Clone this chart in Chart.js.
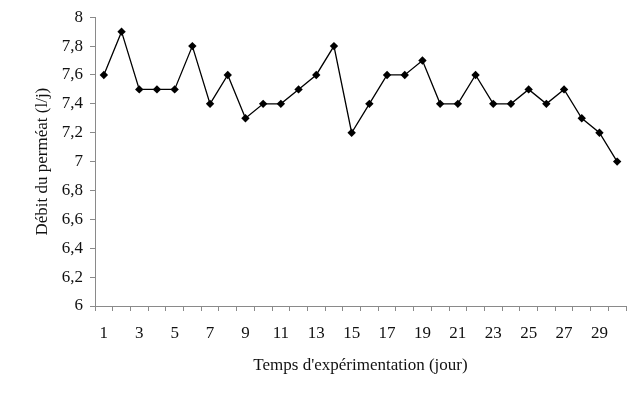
<!DOCTYPE html>
<html>
<head>
<meta charset="utf-8">
<script src="https://cdn.jsdelivr.net/npm/chart.js@4"></script>
<style>
  html, body { margin: 0; padding: 0; background: #fff; }
  #wrap { width: 635px; height: 415px; }
</style>
</head>
<body>
<div id="wrap"><canvas id="js-canvas-debit"></canvas></div>
<script>
// jours d'expérimentation
const days = [
  1, 2, 3, 4, 5, 6, 7, 8, 9, 10,
  11, 12, 13, 14, 15, 16, 17, 18, 19, 20,
  21, 22, 23, 24, 25, 26, 27, 28, 29, 30
];

// débit du perméat (l/j)
const flow = [
  7.6, 7.9, 7.5, 7.5, 7.5, 7.8, 7.4, 7.6, 7.3, 7.4,
  7.4, 7.5, 7.6, 7.8, 7.2, 7.4, 7.6, 7.6, 7.7, 7.4,
  7.4, 7.6, 7.4, 7.4, 7.5, 7.4, 7.5, 7.3, 7.2, 7.0
];

const yMin = 6;
const yMax = 8;
const yStep = 0.2;

const serif = 'Liberation Serif, Times New Roman, serif';
const axisGrey = '#8a8a8a';

const ctx = document.getElementById('js-canvas-debit');
new Chart(ctx, {
  type: 'line',
  data: {
    labels: days.map(String),
    datasets: [
      {
        label: 'Débit du perméat',
        data: flow,
        borderColor: '#000',
        backgroundColor: '#000',
        borderWidth: 1.3,
        pointStyle: 'rectRot',
        pointRadius: 4.2,
        pointBorderWidth: 0,
        tension: 0,
        fill: false
      }
    ]
  },
  options: {
    responsive: true,
    maintainAspectRatio: false,
    animation: false,
    layout: { padding: { top: 15, right: 9, left: 0, bottom: 0 } },
    plugins: {
      legend: { display: false },
      tooltip: { enabled: false }
    },
    scales: {
      x: {
        type: 'category',
        offset: true,
        afterFit: (scale) => { scale.height = 109; },
        grid: {
          offset: true,
          drawOnChartArea: false,
          drawTicks: true,
          tickLength: 5,
          color: axisGrey
        },
        border: { display: true, color: axisGrey, width: 1 },
        ticks: {
          autoSkip: false,
          maxRotation: 0,
          padding: 12,
          color: '#111',
          font: { family: serif, size: 17 },
          callback: function (value, index) {
            return index % 2 === 0 ? this.getLabelForValue(value) : '';
          }
        },
        title: {
          display: true,
          text: "Temps d'expérimentation (jour)",
          color: '#111',
          font: { family: serif, size: 17 },
          padding: { top: 0, bottom: 39 }
        }
      },
      y: {
        min: yMin,
        max: yMax,
        afterFit: (scale) => { scale.width = 95; },
        grid: {
          drawOnChartArea: false,
          drawTicks: true,
          tickLength: 5,
          color: axisGrey
        },
        border: { display: true, color: axisGrey, width: 1 },
        ticks: {
          stepSize: yStep,
          padding: 7,
          color: '#111',
          font: { family: serif, size: 17 },
          callback: (value) => String(Number(value.toFixed(1))).replace('.', ',')
        },
        title: {
          display: true,
          text: 'Débit du perméat (l/j)',
          color: '#111',
          font: { family: serif, size: 17 },
          padding: { top: 32, bottom: 0 }
        }
      }
    }
  }
});
</script>
</body>
</html>
